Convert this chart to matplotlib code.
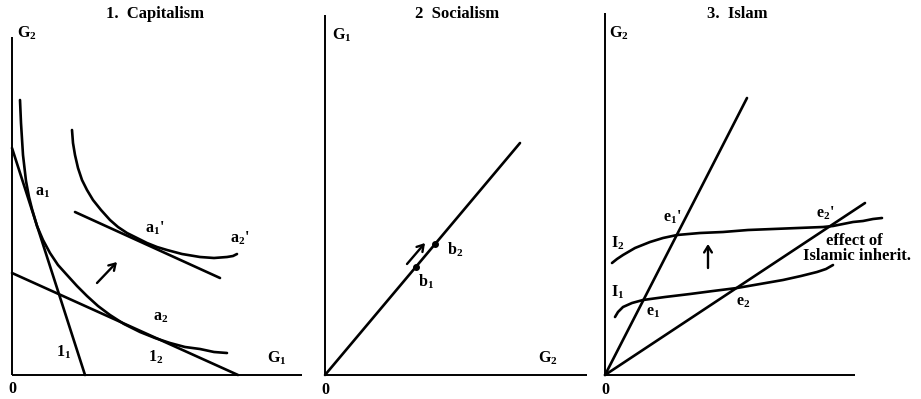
import matplotlib
matplotlib.use("Agg")
import matplotlib.pyplot as plt

plt.rcParams['font.family'] = ['Liberation Serif', 'DejaVu Serif']
plt.rcParams['font.weight'] = 'bold'
plt.rcParams['mathtext.fontset'] = 'custom'
plt.rcParams['mathtext.rm'] = 'Liberation Serif:bold'
plt.rcParams['mathtext.it'] = 'Liberation Serif:bold'
plt.rcParams['mathtext.bf'] = 'Liberation Serif:bold'

# --- 1. Capitalism (G1 across, G2 up) ---
cap_low_x = [8, 9, 11, 14, 17, 20, 25, 31, 38, 46, 55, 65, 75, 86, 98, 112,
             128, 143, 158, 173, 188, 202, 215]
cap_low_y = [275, 252, 220, 194, 178, 166, 149, 135, 122, 110, 100, 89, 79,
             69, 60, 51, 43, 37, 32, 28, 26, 23, 22]
cap_high_x = [60, 61, 63, 66, 70, 75, 81, 89, 98, 106, 115, 125, 135, 145,
              155, 170, 188, 202, 215, 221, 225]
cap_high_y = [245, 232, 220, 207, 195, 185, 175, 165, 155, 148, 142, 137,
              132, 128, 125, 121, 118, 117, 118, 119, 121]
budget1_x = [0, 73]
budget1_y = [227, 0]
budget2_x = [0, 226]
budget2_y = [102, 0]
budget3_x = [63, 208]
budget3_y = [163, 97]

# --- 2. Socialism ---
soc_x = [0, 195]
soc_y = [0, 232]
soc_pts_x = [91, 110]
soc_pts_y = [108, 131]

# --- 3. Islam ---
ray1_x = [0, 142]
ray1_y = [0, 277]
ray2_x = [0, 260]
ray2_y = [0, 172]
isl_i2_x = [7, 12, 18, 30, 45, 58, 72, 95, 118, 143, 168, 193, 218, 228,
            238, 248, 258, 268, 277]
isl_i2_y = [112, 116, 120, 127, 133, 137, 140, 142, 143, 145, 146, 147, 148,
            149, 151, 153, 154, 156, 157]
isl_i1_x = [10, 13, 18, 27, 38, 60, 85, 108, 132, 155, 178, 196, 212, 221, 228]
isl_i1_y = [58, 63, 68, 72, 75, 78, 81, 84, 87, 91, 95, 99, 103, 106, 110]

LW = 1.9
fig = plt.figure(figsize=(9.21, 3.99), dpi=100)
W, H = 921, 399


def panel(px0, px1, ox, oy):
    # axes in pixel units with origin of the diagram at (ox, oy)
    ax = fig.add_axes([px0 / W, 0, (px1 - px0) / W, 1])
    ax.set_xlim(px0 - ox, px1 - ox)
    ax.set_ylim(oy - H, oy)
    ax.axis('off')
    return ax


def label(ax, x, y, s, size=11.5):
    ax.text(x, y, s, ha='center', va='center', fontsize=size, fontweight='bold')


def arrow(ax, x0, y0, x1, y1):
    ax.annotate('', xy=(x1, y1), xytext=(x0, y0),
                arrowprops=dict(arrowstyle='->,head_length=0.45,head_width=0.28',
                                lw=1.7, color='black', shrinkA=0, shrinkB=0))


def axes_lines(ax, xmax, ymax):
    ax.plot([0, 0], [0, ymax], color='black', lw=1.4, solid_capstyle='butt')
    ax.plot([0, xmax], [0, 0], color='black', lw=1.4, solid_capstyle='butt')


kw = dict(color='black', lw=LW, solid_capstyle='round', solid_joinstyle='round')

# panel 1
ax1 = panel(0, 307, 12, 375)
axes_lines(ax1, 290, 338)
ax1.plot(cap_low_x, cap_low_y, **kw)
ax1.plot(cap_high_x, cap_high_y, **kw)
ax1.plot(budget1_x, budget1_y, **kw)
ax1.plot(budget2_x, budget2_y, **kw)
ax1.plot(budget3_x, budget3_y, **kw)
arrow(ax1, 85, 92, 105, 113)
label(ax1, 143, 361, '1.  Capitalism', 12)
label(ax1, 15, 342, 'G$_2$', 11.5)
label(ax1, 265, 17, 'G$_1$', 11.5)
label(ax1, 0, -14, '0', 11.5)
label(ax1, 31, 183, 'a$_1$')
label(ax1, 143, 147, "a$_1$'")
label(ax1, 228, 137, "a$_2$'")
label(ax1, 149, 58, 'a$_2$')
label(ax1, 52, 23, '1$_1$')
label(ax1, 144, 18, '1$_2$')

# panel 2
ax2 = panel(307, 597, 325, 375)
axes_lines(ax2, 262, 360)
ax2.plot(soc_x, soc_y, **kw)
ax2.plot(soc_pts_x, soc_pts_y, 'o', color='black', ms=4)
arrow(ax2, 82, 111, 100, 132)
label(ax2, 132, 361, '2  Socialism', 12)
label(ax2, 17, 340, 'G$_1$', 11.5)
label(ax2, 223, 17, 'G$_2$', 11.5)
label(ax2, 0, -15, '0', 11.5)
label(ax2, 101, 93, 'b$_1$')
label(ax2, 130, 125, 'b$_2$')

# panel 3
ax3 = panel(597, 921, 605, 375)
axes_lines(ax3, 250, 362)
ax3.plot(ray1_x, ray1_y, **kw)
ax3.plot(ray2_x, ray2_y, **kw)
ax3.plot(isl_i2_x, isl_i2_y, **kw)
ax3.plot(isl_i1_x, isl_i1_y, **kw)
arrow(ax3, 103, 107, 103, 131)
label(ax3, 132, 361, '3.  Islam', 12)
label(ax3, 14, 342, 'G$_2$', 11.5)
label(ax3, 0, -15, '0', 11.5)
label(ax3, 67, 158, "e$_1$'")
label(ax3, 220, 162, "e$_2$'")
label(ax3, 13, 132, 'I$_2$')
label(ax3, 13, 83, 'I$_1$')
label(ax3, 48, 63, 'e$_1$')
label(ax3, 138, 73, 'e$_2$')
label(ax3, 249, 134, 'effect of', 12)
label(ax3, 252, 119, 'Islamic inherit.', 12)

fig.savefig('out.png', dpi=100)
